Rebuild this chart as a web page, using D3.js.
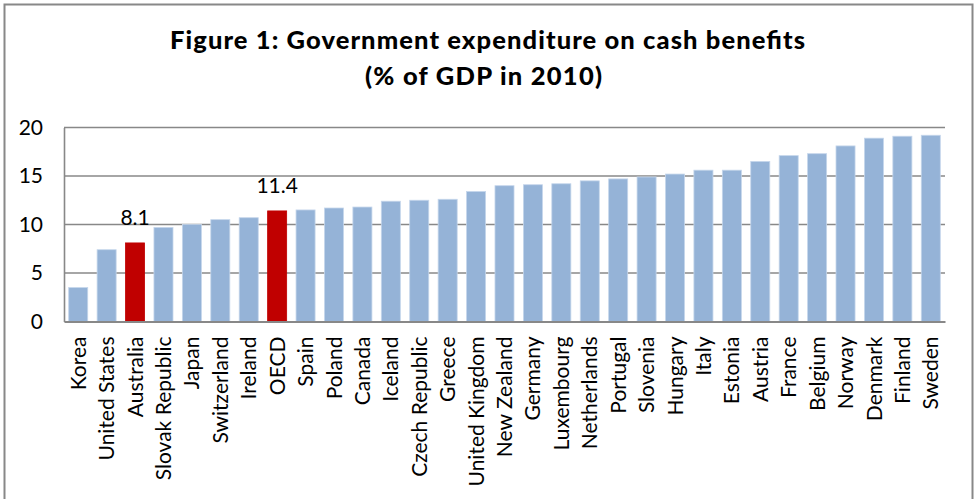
<!DOCTYPE html>
<html>
<head>
<meta charset="utf-8">
<script src="https://cdn.jsdelivr.net/npm/d3@7"></script>
<style>
  html, body { margin: 0; padding: 0; background: #fff; }
  svg { display: block; }
  text { font-family: Lato, "Open Sans", sans-serif; fill: #000; }
</style>
</head>
<body>
<svg id="chart" width="975" height="499"></svg>
<script>
// Cash benefits spending, % of GDP, 2010
const countries = ["Korea", "United States", "Australia", "Slovak Republic", "Japan", "Switzerland",
  "Ireland", "OECD", "Spain", "Poland", "Canada", "Iceland", "Czech Republic", "Greece",
  "United Kingdom", "New Zealand", "Germany", "Luxembourg", "Netherlands", "Portugal", "Slovenia",
  "Hungary", "Italy", "Estonia", "Austria", "France", "Belgium", "Norway", "Denmark", "Finland", "Sweden"];
const values = [3.5, 7.4, 8.1, 9.7, 10.0, 10.5, 10.7, 11.4, 11.5, 11.7, 11.8, 12.4, 12.5, 12.6,
  13.4, 14.0, 14.1, 14.2, 14.5, 14.7, 14.9, 15.2, 15.6, 15.6, 16.5, 17.1, 17.3, 18.1, 18.9, 19.1, 19.2];
const highlighted = ["Australia", "OECD"];
const yTicks = [0, 5, 10, 15, 20];
const titleLines = ["Figure 1: Government expenditure on cash benefits", "(% of GDP in 2010)"];

const data = countries.map((c, i) => ({ country: c, value: values[i] }));

const svg = d3.select("#chart");
const W = 975, H = 499;
const plot = { left: 64, right: 945, top: 127.5, bottom: 321.5 };

// chart frame
svg.append("rect")
  .attr("x", 4.5).attr("y", 4.5)
  .attr("width", 968).attr("height", H + 10)
  .attr("fill", "#fff").attr("stroke", "#888").attr("stroke-width", 2);

// title, two centred bold lines
const titleSpec = [{ cx: 487.5, baseline: 49, len: 635 }, { cx: 483.5, baseline: 85, len: 237 }];
svg.append("g").selectAll("text")
  .data(titleLines)
  .join("text")
  .attr("x", (d, i) => titleSpec[i].cx)
  .attr("y", (d, i) => titleSpec[i].baseline)
  .attr("text-anchor", "middle")
  .attr("font-size", 25.5)
  .attr("font-weight", 900)
  .attr("textLength", (d, i) => titleSpec[i].len)
  .attr("lengthAdjust", "spacing")
  .text(d => d);

const x = d3.scaleBand()
  .domain(countries)
  .range([plot.left, plot.right])
  .paddingInner(0.33)
  .paddingOuter(0.165);

const y = d3.scaleLinear()
  .domain([0, 20])
  .range([plot.bottom, plot.top]);

// horizontal gridlines
svg.append("g").selectAll("line")
  .data(yTicks.filter(t => t > 0))
  .join("line")
  .attr("x1", plot.left).attr("x2", plot.right)
  .attr("y1", d => y(d)).attr("y2", d => y(d))
  .attr("stroke", "#888").attr("stroke-width", 1.6);

// bars
svg.append("g").selectAll("rect")
  .data(data)
  .join("rect")
  .attr("x", d => x(d.country))
  .attr("width", x.bandwidth())
  .attr("y", d => y(d.value))
  .attr("height", d => y(0) - y(d.value))
  .attr("fill", d => highlighted.includes(d.country) ? "#C00000" : "#95B3D7")
  .attr("stroke", d => highlighted.includes(d.country) ? "#C00000" : "#C5D6EB")
  .attr("stroke-width", 0.8);

// value labels on highlighted bars
svg.append("g").selectAll("text")
  .data(data.filter(d => highlighted.includes(d.country)))
  .join("text")
  .attr("x", d => x(d.country) + x.bandwidth() / 2)
  .attr("y", d => y(d.value) - 18)
  .attr("text-anchor", "middle")
  .attr("font-size", 21)
  .text(d => d.value.toFixed(1));

// y axis
const yAxis = svg.append("g")
  .attr("transform", `translate(${plot.left},0)`)
  .call(d3.axisLeft(y).tickValues(yTicks).tickSize(0).tickPadding(21).tickFormat(d3.format("d")));
yAxis.select(".domain").attr("stroke", "#888").attr("stroke-width", 1.6);
yAxis.selectAll("text").attr("font-size", 21).attr("font-family", "Lato, sans-serif").attr("fill", "#000");

// x axis
const xAxis = svg.append("g")
  .attr("transform", `translate(0,${plot.bottom})`)
  .call(d3.axisBottom(x).tickSize(0).tickPadding(0));
xAxis.select(".domain").attr("stroke", "#888").attr("stroke-width", 2);
xAxis.selectAll("text")
  .attr("font-size", 21)
  .attr("font-family", "Lato, sans-serif")
  .attr("fill", "#000")
  .attr("text-anchor", "end")
  .attr("transform", "rotate(-90)")
  .attr("x", -15)
  .attr("y", 0)
  .attr("dy", "0.36em");
</script>
</body>
</html>
